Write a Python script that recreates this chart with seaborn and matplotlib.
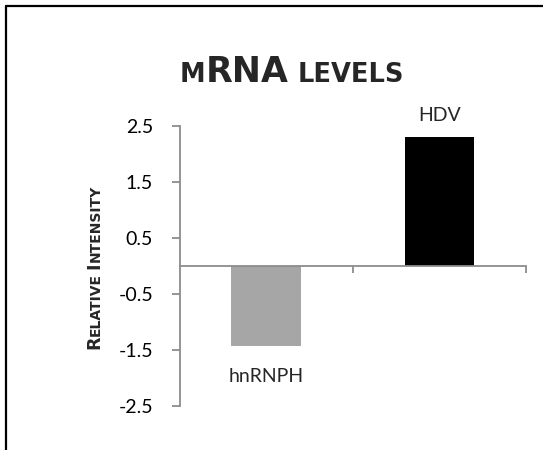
import matplotlib
matplotlib.use("Agg")
import matplotlib.pyplot as plt
from matplotlib.lines import Line2D
import seaborn as sns
import pandas as pd

# ---- data ----
categories = ["hnRNPH", "HDV"]
values = [-1.43, 2.30]
bar_colors = ["#a6a6a6", "#000000"]
ytick_values = [-2.5, -1.5, -0.5, 0.5, 1.5, 2.5]
ytick_labels = ["-2.5", "-1.5", "-0.5", "0.5", "1.5", "2.5"]
title_pieces = [("M", "small"), ("RNA", "large"), (None, "gap"), ("LEVELS", "small")]
ylabel_pieces = [("R", "large"), ("ELATIVE", "small"), (None, "gap"), ("I", "large"), ("NTENSITY", "small")]

sns.set_theme(style="white")
plt.rcParams["font.family"] = ["Lato", "DejaVu Sans"]
plt.rcParams["axes.unicode_minus"] = False

W, H, DPI = 543, 450, 100
fig = plt.figure(figsize=(W / DPI, H / DPI), dpi=DPI)
fig.patch.set_facecolor("white")

ax = fig.add_axes([179.5 / W, 1 - 406 / H, (526 - 179.5) / W, (406 - 126) / H])
df = pd.DataFrame({"cat": categories, "val": values})
sns.barplot(data=df, x="cat", y="val", hue="cat", palette=bar_colors,
            width=0.4, saturation=1, legend=False, ax=ax, edgecolor="none")

axis_gray = "#8c8c8c"
ax.set_xlim(-0.5, 1.5)
ax.set_ylim(-2.5, 2.5)
ax.set_yticks(ytick_values)
ax.set_yticklabels(ytick_labels, fontsize=14, color="black")
ax.set_xticks([0.5, 1.5])
ax.set_xticklabels(["", ""])
ax.set_xlabel("")
ax.set_ylabel("")
for s in ["top", "right"]:
    ax.spines[s].set_visible(False)
ax.spines["bottom"].set_position(("data", 0))
for s in ["left", "bottom"]:
    ax.spines[s].set_color(axis_gray)
    ax.spines[s].set_linewidth(1.3)
ax.tick_params(axis="y", direction="out", length=6, width=1.3, color=axis_gray, pad=13, left=True)
ax.tick_params(axis="x", direction="out", length=5, width=1.3, color=axis_gray, bottom=True)
ax.grid(False)

# data labels (category names)
for p, cat, v in zip(ax.patches, categories, values):
    xc = p.get_x() + p.get_width() / 2
    if v >= 0:
        ax.annotate(cat, xy=(xc, v), xytext=(0, 12), textcoords="offset points",
                    ha="center", va="baseline", fontsize=14)
    else:
        ax.annotate(cat, xy=(xc, v), xytext=(0, -26), textcoords="offset points",
                    ha="center", va="baseline", fontsize=14)


def place_pieces(pieces, sizes, gap_px, cx, cy, rotation=0, family="DejaVu Sans"):
    """Small-caps style text made from several text pieces, centred at (cx, cy) in px (top origin)."""
    fig.canvas.draw()
    r = fig.canvas.get_renderer()
    objs = []
    total = 0.0
    for txt, kind in pieces:
        if txt is None:
            objs.append((None, gap_px))
            total += gap_px
            continue
        t = fig.text(0, 0, txt, fontsize=sizes[kind], fontweight="bold", family=family,
                     ha="left", va="baseline")
        w = t.get_window_extent(r).width
        objs.append((t, w))
        total += w
    if rotation == 0:
        pos = cx - total / 2
        for t, w in objs:
            if t is not None:
                t.set_position((pos / W, 1 - cy / H))
            pos += w
    else:
        pos = (H - cy) - total / 2
        for t, w in objs:
            if t is not None:
                t.set_rotation(90)
                t.set_rotation_mode("anchor")
                t.set_position((cx / W, pos / H))
            pos += w


# title
place_pieces(title_pieces, {"large": 25, "small": 18.5}, 9, 292, 82)
# y axis label
place_pieces(ylabel_pieces, {"large": 12.5, "small": 10}, 4, 99.5, 267, rotation=90)

# chart border (top and left edges visible)
fig.add_artist(Line2D([6 / W, 1.0], [1 - 6 / H, 1 - 6 / H], transform=fig.transFigure,
                      color="black", linewidth=1.6))
fig.add_artist(Line2D([6 / W, 6 / W], [0.0, 1 - 6 / H], transform=fig.transFigure,
                      color="black", linewidth=1.6))

fig.savefig("out.png", dpi=DPI, facecolor="white")
